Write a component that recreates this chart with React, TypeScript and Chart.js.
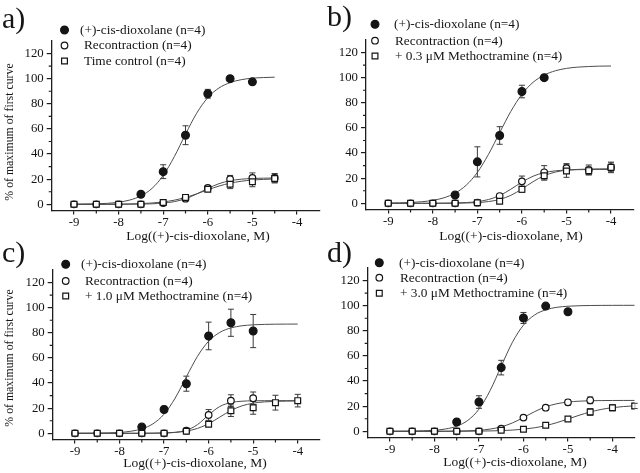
import React, { useEffect, useRef } from 'react';
import { Chart, registerables } from 'chart.js';

Chart.register(...registerables);

// ---------------- DATA ----------------
const xTickValues = [-9, -8, -7, -6, -5, -4];
const xMinorValues = [-8.5, -7.5, -6.5, -5.5, -4.5];
const yTickValues = [0, 20, 40, 60, 80, 100, 120];
const yMinorValues = [10, 30, 50, 70, 90, 110];

const xTitleText = 'Log((+)-cis-dioxolane, M)';
const yTitleText = '% of maximum of first curve';
const legendAgonist = '(+)-cis-dioxolane (n=4)';
const legendRecontraction = 'Recontraction (n=4)';
const legendTimeControl = 'Time control (n=4)';
const legendMeth03 = '+ 0.3 \u03bcM Methoctramine (n=4)';
const legendMeth10 = '+ 1.0 \u03bcM Methoctramine (n=4)';
const legendMeth30 = '+ 3.0 \u03bcM Methoctramine (n=4)';

// dose grids of the measured points
const dose9to5 = [-9, -8.5, -8, -7.5, -7, -6.5, -6, -5.5, -5];
const dose9to45 = [-9, -8.5, -8, -7.5, -7, -6.5, -6, -5.5, -5, -4.5];
const dose9to4 = [-9, -8.5, -8, -7.5, -7, -6.5, -6, -5.5, -5, -4.5, -4];
const dose9to35 = [-9, -8.5, -8, -7.5, -7, -6.5, -6, -5.5, -5, -4.5, -4, -3.5];
const dose75to5 = [-7.5, -7, -6.5, -6, -5.5, -5];
const dose75to55 = [-7.5, -7, -6.5, -6, -5.5];

// dose grids of the fitted curves
const fitXa = [-9, -8.75, -8.5, -8.25, -8, -7.75, -7.5, -7.25, -7, -6.75, -6.5, -6.25, -6, -5.75, -5.5, -5.25, -5, -4.75, -4.5];
const fitXbc = [-9, -8.75, -8.5, -8.25, -8, -7.75, -7.5, -7.25, -7, -6.75, -6.5, -6.25, -6, -5.75, -5.5, -5.25, -5, -4.75, -4.5, -4.25, -4];
const fitXd = [-9, -8.75, -8.5, -8.25, -8, -7.75, -7.5, -7.25, -7, -6.75, -6.5, -6.25, -6, -5.75, -5.5, -5.25, -5, -4.75, -4.5, -4.25, -4, -3.75, -3.5];

// Panel a
const aAgonist = [8, 26, 55, 88, 100, 97.5];
const aAgonistErr = [0.5, 5.5, 7.5, 3.5, 1, 1];
const aRecontraction = [0, 0, 0, 0, 1, 4.5, 13, 20, 21, 21];
const aRecontractionErr = [0, 0, 0, 0, 0.5, 1, 1.5, 3, 4, 3.5];
const aTimeControl = [0, 0, 0, 0, 1.5, 5.5, 12, 16, 18, 20.5];
const aTimeControlErr = [0, 0, 0, 0, 0.5, 1, 1.5, 3.5, 4, 3.5];
const aAgonistFit = [0.1, 0.2, 0.4, 0.8, 1.7, 3.4, 6.7, 12.7, 23, 38, 55.8, 72.5, 84.9, 92.6, 96.9, 99.2, 100.4, 100.9, 101.2];
const aRecontractionFit = [0, 0, 0, 0.01, 0.03, 0.08, 0.18, 0.41, 0.96, 2.14, 4.45, 8.18, 12.64, 16.42, 18.8, 20.0, 20.57, 20.82, 20.92];
const aTimeControlFit = [0.01, 0.03, 0.05, 0.09, 0.17, 0.31, 0.57, 1.06, 1.9, 3.31, 5.47, 8.33, 11.54, 14.52, 16.82, 18.37, 19.31, 19.85, 20.15];

// Panel b
const bAgonist = [6.6, 33, 54, 89, 100];
const bAgonistErr = [0.5, 12, 7, 5, 1];
const bRecontraction = [0, 0, 0, 0, 0.5, 5.8, 17.5, 24.7, 27.9, 26.5, 28.6];
const bRecontractionErr = [0, 0, 0, 0, 0.5, 1, 4.2, 5.3, 3.7, 4, 4.2];
const bMeth = [0, 0, 0, 0, 0.5, 1.6, 11.1, 22, 25.7, 26, 28.6];
const bMethErr = [0, 0, 0, 0, 0.3, 0.6, 2.5, 3.6, 5, 3, 3.5];
const bAgonistFit = [0.18, 0.35, 0.66, 1.25, 2.36, 4.4, 8.09, 14.45, 24.6, 39.0, 56.2, 73.1, 86.8, 96.3, 102.1, 105.5, 107.4, 108.4, 108.9, 109.2, 109.3];
const bRecontractionFit = [0, 0, 0.01, 0.02, 0.05, 0.11, 0.25, 0.59, 1.36, 3.02, 6.21, 11.19, 16.92, 21.58, 24.41, 25.85, 26.5, 26.79, 26.91, 26.96, 26.98];
const bMethFit = [0, 0, 0, 0.01, 0.02, 0.05, 0.11, 0.26, 0.6, 1.39, 3.08, 6.32, 11.4, 17.23, 21.98, 24.86, 26.32, 26.99, 27.28, 27.41, 27.46];

// Panel c
const cAgonist = [5, 19, 39.5, 77.5, 88, 81.4];
const cAgonistErr = [0.5, 2.5, 6, 11, 10.8, 13.2];
const cRecontraction = [0, 0, 0, 0, 0, 2.1, 14.6, 26, 27.9];
const cRecontractionErr = [0, 0, 0, 0, 0, 0.8, 4.3, 4.7, 5];
const cMeth = [0, 0, 0, 0, 0, 1.6, 7.2, 18, 20.4, 24.4, 26];
const cMethErr = [0, 0, 0, 0, 0, 0.5, 1.5, 4.6, 5.2, 5.9, 5];
const cAgonistFit = [0.03, 0.07, 0.15, 0.33, 0.73, 1.62, 3.54, 7.55, 15.26, 28.07, 44.9, 61.3, 73.3, 80.3, 83.9, 85.6, 86.36, 86.71, 86.87, 86.94, 86.97];
const cRecontractionFit = [0, 0, 0, 0, 0, 0, 0.02, 0.06, 0.21, 0.73, 2.41, 6.93, 14.64, 21.33, 24.49, 25.56, 25.87, 25.96, 25.99, 26, 26];
const cMethFit = [0, 0, 0, 0.01, 0.01, 0.03, 0.06, 0.14, 0.34, 0.79, 1.8, 3.9, 7.65, 12.9, 18.15, 21.9, 24.0, 25.01, 25.46, 25.66, 25.74];

// Panel d
const dAgonist = [7.4, 23.3, 50.7, 90.2, 99.7, 95.2];
const dAgonistErr = [0.5, 5, 5.8, 4.4, 0.8, 1];
const dRecontraction = [0, 0, 0, 0, 0, 2.1, 10.9, 18.8, 23.1, 24.7];
const dRecontractionErr = [0, 0, 0, 0, 0, 0.5, 0.8, 1, 2.2, 2.7];
const dMeth = [0, 0, 0, 0, 0, 0.8, 1.6, 4.8, 9.8, 15.4, 18.8, 20.2];
const dMethErr = [0, 0, 0, 0, 0, 0.3, 0.5, 0.8, 1.8, 2.7, 2.5, 2.1];
const dAgonistFit = [0.03, 0.08, 0.17, 0.38, 0.84, 1.87, 4.09, 8.71, 17.6, 32.4, 51.8, 70.7, 84.5, 92.6, 96.7, 98.7, 99.56, 99.97, 100.15, 100.23, 100.27, 100.29, 100.3];
const dRecontractionFit = [0, 0, 0.01, 0.02, 0.04, 0.09, 0.19, 0.4, 0.85, 1.78, 3.57, 6.64, 10.97, 15.65, 19.48, 21.95, 23.31, 23.99, 24.31, 24.47, 24.54, 24.57, 24.59];
const dMethFit = [0, 0, 0.01, 0.01, 0.02, 0.03, 0.06, 0.1, 0.18, 0.32, 0.56, 0.98, 1.68, 2.82, 4.54, 6.9, 9.78, 12.76, 15.41, 17.44, 18.84, 19.73, 20.26];

// ---------------- STYLE ----------------
const FONT = "'Liberation Serif', 'Times New Roman', serif";
const INK = '#151515';
const AXIS = '#1e1e1e';
const FITC = '#4d4d4d';
const ERRC = '#3a3a3a';

type Shape = 'filled' | 'open' | 'square';

const pts = (xs: number[], ys: number[]) => xs.map((v, i) => ({ x: v, y: ys[i] }));

function markerDataset(xs: number[], ys: number[], err: number[], shape: Shape) {
  const base: any = {
    data: pts(xs, ys),
    err,
    showLine: false,
    borderWidth: 1.2,
    borderColor: INK,
  };
  if (shape === 'filled') {
    return { ...base, pointStyle: 'circle', pointRadius: 3.9, backgroundColor: INK };
  }
  if (shape === 'open') {
    return { ...base, pointStyle: 'circle', pointRadius: 3.3, backgroundColor: '#ffffff' };
  }
  return { ...base, pointStyle: 'rect', pointRadius: 4.1, backgroundColor: '#ffffff' };
}

function fitDataset(xs: number[], ys: number[]) {
  return {
    data: pts(xs, ys),
    showLine: true,
    pointRadius: 0,
    borderColor: FITC,
    borderWidth: 1,
    cubicInterpolationMode: 'monotone',
    fill: false,
  };
}

type PanelDef = {
  key: string;
  label: string;
  labelPos: [number, number];
  area: { left: number; right: number; top: number; bottom: number };
  legendMarkerX: number;
  legendTextX: number[];
  legendRowY: number[];
  legendText: string[];
  xTitlePos: [number, number];
  yTitlePos: [number, number] | null;
  datasets: any[];
};

const panels: PanelDef[] = [
  {
    key: 'a',
    label: 'a)',
    labelPos: [2, 28],
    area: { left: 51.7, right: 319.3, top: 41, bottom: 210.6 },
    legendMarkerX: 64.5,
    legendTextX: [80, 84, 84],
    legendRowY: [30, 45.5, 61],
    legendText: [legendAgonist, legendRecontraction, legendTimeControl],
    xTitlePos: [198, 240],
    yTitlePos: [10, 132],
    datasets: [
      markerDataset(dose9to45, aTimeControl, aTimeControlErr, 'square'),
      markerDataset(dose9to45, aRecontraction, aRecontractionErr, 'open'),
      markerDataset(dose75to5, aAgonist, aAgonistErr, 'filled'),
      fitDataset(fitXa, aAgonistFit),
      fitDataset(fitXa, aRecontractionFit),
      fitDataset(fitXa, aTimeControlFit),
    ],
  },
  {
    key: 'b',
    label: 'b)',
    labelPos: [327, 26],
    area: { left: 366, right: 633.3, top: 40, bottom: 209.6 },
    legendMarkerX: 375,
    legendTextX: [394, 395, 395],
    legendRowY: [24.3, 40.7, 56],
    legendText: [legendAgonist, legendRecontraction, legendMeth03],
    xTitlePos: [511, 240],
    yTitlePos: null,
    datasets: [
      markerDataset(dose9to4, bMeth, bMethErr, 'square'),
      markerDataset(dose9to4, bRecontraction, bRecontractionErr, 'open'),
      markerDataset(dose75to55, bAgonist, bAgonistErr, 'filled'),
      fitDataset(fitXbc, bAgonistFit),
      fitDataset(fitXbc, bRecontractionFit),
      fitDataset(fitXbc, bMethFit),
    ],
  },
  {
    key: 'c',
    label: 'c)',
    labelPos: [2, 262],
    area: { left: 52.7, right: 320, top: 270, bottom: 439.6 },
    legendMarkerX: 65.7,
    legendTextX: [81, 85, 85],
    legendRowY: [264.3, 281, 296],
    legendText: [legendAgonist, legendRecontraction, legendMeth10],
    xTitlePos: [195, 467],
    yTitlePos: [10, 358],
    datasets: [
      markerDataset(dose9to4, cMeth, cMethErr, 'square'),
      markerDataset(dose9to5, cRecontraction, cRecontractionErr, 'open'),
      markerDataset(dose75to5, cAgonist, cAgonistErr, 'filled'),
      fitDataset(fitXbc, cAgonistFit),
      fitDataset(fitXbc, cRecontractionFit),
      fitDataset(fitXbc, cMethFit),
    ],
  },
  {
    key: 'd',
    label: 'd)',
    labelPos: [327, 262],
    area: { left: 367.7, right: 635, top: 268, bottom: 437.6 },
    legendMarkerX: 379.3,
    legendTextX: [399, 400, 400],
    legendRowY: [262.7, 277.7, 293.3],
    legendText: [legendAgonist, legendRecontraction, legendMeth30],
    xTitlePos: [515, 466],
    yTitlePos: null,
    datasets: [
      markerDataset(dose9to35, dMeth, dMethErr, 'square'),
      markerDataset(dose9to45, dRecontraction, dRecontractionErr, 'open'),
      markerDataset(dose75to5, dAgonist, dAgonistErr, 'filled'),
      fitDataset(fitXd, dAgonistFit),
      fitDataset(fitXd, dRecontractionFit),
      fitDataset(fitXd, dMethFit),
    ],
  },
];

const W = 640;
const H = 473;

const errorBarPlugin = {
  id: 'errorBars',
  beforeDatasetsDraw(chart: any) {
    const { ctx } = chart;
    const xs = chart.scales.x;
    const ys = chart.scales.y;
    ctx.save();
    ctx.strokeStyle = ERRC;
    ctx.lineWidth = 1;
    chart.data.datasets.forEach((ds: any) => {
      if (!ds.err) return;
      ds.data.forEach((p: any, i: number) => {
        const e = ds.err[i];
        if (!e) return;
        const px = xs.getPixelForValue(p.x);
        const t = ys.getPixelForValue(p.y + e);
        const b = ys.getPixelForValue(p.y - e);
        ctx.beginPath();
        ctx.moveTo(px, t);
        ctx.lineTo(px, b);
        ctx.moveTo(px - 3, t);
        ctx.lineTo(px + 3, t);
        ctx.moveTo(px - 3, b);
        ctx.lineTo(px + 3, b);
        ctx.stroke();
      });
    });
    ctx.restore();
  },
};

const minorTickPlugin = {
  id: 'minorTicks',
  afterDraw(chart: any) {
    const { ctx, chartArea } = chart;
    const xs = chart.scales.x;
    const ys = chart.scales.y;
    ctx.save();
    ctx.strokeStyle = AXIS;
    ctx.lineWidth = 1.2;
    ctx.beginPath();
    yMinorValues.forEach((v) => {
      const py = ys.getPixelForValue(v);
      ctx.moveTo(chartArea.left, py);
      ctx.lineTo(chartArea.left - 3, py);
    });
    xMinorValues.forEach((v) => {
      const px = xs.getPixelForValue(v);
      ctx.moveTo(px, chartArea.bottom);
      ctx.lineTo(px, chartArea.bottom + 3);
    });
    ctx.stroke();
    ctx.restore();
  },
};

function drawLegendMarker(ctx: CanvasRenderingContext2D, shape: Shape, x: number, y: number) {
  ctx.save();
  ctx.lineWidth = 1.2;
  ctx.strokeStyle = INK;
  if (shape === 'filled') {
    ctx.fillStyle = INK;
    ctx.beginPath();
    ctx.arc(x, y, 3.9, 0, Math.PI * 2);
    ctx.fill();
    ctx.stroke();
  } else if (shape === 'open') {
    ctx.fillStyle = '#fff';
    ctx.beginPath();
    ctx.arc(x, y, 3.3, 0, Math.PI * 2);
    ctx.fill();
    ctx.stroke();
  } else {
    ctx.fillStyle = '#fff';
    ctx.beginPath();
    ctx.rect(x - 2.9, y - 2.9, 5.8, 5.8);
    ctx.fill();
    ctx.stroke();
  }
  ctx.restore();
}

function makeTextPlugin(p: PanelDef) {
  return {
    id: 'panelText' + p.key,
    afterDraw(chart: any) {
      const ctx: CanvasRenderingContext2D = chart.ctx;
      ctx.save();
      ctx.fillStyle = INK;
      // panel label
      ctx.font = `30px ${FONT}`;
      ctx.textAlign = 'left';
      ctx.textBaseline = 'alphabetic';
      ctx.fillText(p.label, p.labelPos[0], p.labelPos[1]);
      // legend
      const shapes: Shape[] = ['filled', 'open', 'square'];
      ctx.font = `13.3px ${FONT}`;
      ctx.textBaseline = 'middle';
      p.legendText.forEach((t, i) => {
        drawLegendMarker(ctx, shapes[i], p.legendMarkerX, p.legendRowY[i]);
        ctx.fillStyle = INK;
        ctx.fillText(t, p.legendTextX[i], p.legendRowY[i] + 0.5);
      });
      // x title
      ctx.font = `13.5px ${FONT}`;
      ctx.textAlign = 'center';
      ctx.textBaseline = 'alphabetic';
      ctx.fillText(xTitleText, p.xTitlePos[0], p.xTitlePos[1]);
      // y title
      if (p.yTitlePos) {
        ctx.save();
        ctx.translate(p.yTitlePos[0], p.yTitlePos[1]);
        ctx.rotate(-Math.PI / 2);
        ctx.font = `11.8px ${FONT}`;
        ctx.textAlign = 'center';
        ctx.textBaseline = 'middle';
        ctx.fillText(yTitleText, 0, 0);
        ctx.restore();
      }
      ctx.restore();
    },
  };
}

function PanelChart({ p }: { p: PanelDef }) {
  const ref = useRef<HTMLCanvasElement>(null);
  useEffect(() => {
    const canvas = ref.current;
    if (!canvas) return;
    const a = p.area;
    const zeroPad = (s: any) => {
      s.paddingLeft = 0;
      s.paddingRight = 0;
      s.paddingTop = 0;
      s.paddingBottom = 0;
    };
    const tickFont = { family: FONT, size: 12.8 };
    const chart = new Chart(canvas, {
      type: 'scatter',
      data: { datasets: p.datasets },
      options: {
        responsive: false,
        maintainAspectRatio: false,
        devicePixelRatio: 1,
        animation: false,
        events: [],
        layout: { padding: { left: 0, top: a.top, right: W - a.right, bottom: 0 } },
        plugins: {
          legend: { display: false },
          tooltip: { enabled: false },
          title: { display: false },
        },
        scales: {
          x: {
            type: 'linear',
            position: 'bottom',
            min: -9.5,
            max: -3.5,
            afterBuildTicks: (s: any) => {
              s.ticks = xTickValues.map((v) => ({ value: v }));
            },
            afterFit: (s: any) => {
              s.height = H - a.bottom;
              zeroPad(s);
            },
            ticks: {
              autoSkip: false,
              maxRotation: 0,
              font: tickFont,
              color: INK,
              padding: 0,
              callback: (v: any) => String(v),
            },
            grid: { display: true, drawOnChartArea: false, drawTicks: true, tickLength: 4, color: AXIS, lineWidth: 1.2 },
            border: { display: true, color: AXIS, width: 1.3 },
          },
          y: {
            type: 'linear',
            position: 'left',
            min: -5,
            max: 130,
            afterBuildTicks: (s: any) => {
              s.ticks = yTickValues.map((v) => ({ value: v }));
            },
            afterFit: (s: any) => {
              s.width = a.left;
              zeroPad(s);
            },
            ticks: {
              autoSkip: false,
              font: tickFont,
              color: INK,
              padding: 3,
              callback: (v: any) => String(v),
            },
            grid: { display: true, drawOnChartArea: false, drawTicks: true, tickLength: 5, color: AXIS, lineWidth: 1.2 },
            border: { display: true, color: AXIS, width: 1.3 },
          },
        },
      } as any,
      plugins: [errorBarPlugin, minorTickPlugin, makeTextPlugin(p)],
    });
    return () => chart.destroy();
  }, [p]);
  return (
    <canvas
      ref={ref}
      width={W}
      height={H}
      style={{ position: 'absolute', left: 0, top: 0, width: W, height: H }}
    />
  );
}

export default function App() {
  return (
    <div style={{ position: 'fixed', left: 0, top: 0, width: W, height: H, background: '#ffffff', overflow: 'hidden' }}>
      {panels.map((p) => (
        <PanelChart key={p.key} p={p} />
      ))}
    </div>
  );
}
